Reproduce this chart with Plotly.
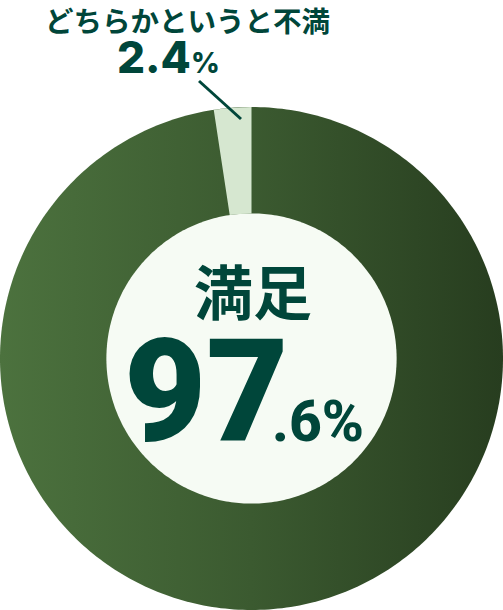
import numpy as np
import plotly.graph_objects as go

# ---- data ----
labels = ["満足", "どちらかというと不満"]
values = [97.6, 2.4]
value_text = ["97.6%", "2.4%"]

W, H = 503, 610
R = W / 2.0            # pie radius in px (domain width / 2)
HOLE = 0.577
DARK = "#00463a"

fig = go.Figure()

# gradient underlay for the ring (decorative background disc)
t = np.linspace(0, 2 * np.pi, 361)
cx, cy = W / 2.0, W / 2.0
fig.add_trace(go.Scatter(
    x=cx + R * np.cos(t), y=cy + R * np.sin(t),
    mode="none", fill="toself",
    fillgradient=dict(type="horizontal",
                      colorscale=[[0, "#4c723e"], [0.5, "#3b5a30"], [1, "#273d1f"]]),
    hoverinfo="skip", showlegend=False))
# inner face of the donut
fig.add_trace(go.Scatter(
    x=cx + R * HOLE * np.cos(t), y=cy + R * HOLE * np.sin(t),
    mode="none", fill="toself", fillcolor="#f6fbf4",
    hoverinfo="skip", showlegend=False))

fig.add_trace(go.Pie(
    labels=labels, values=values, hole=HOLE,
    sort=False, direction="clockwise", rotation=0,
    marker=dict(colors=["rgba(0,0,0,0)", "#d6e7d0"], line=dict(width=0)),
    textinfo="none", hoverinfo="skip", showlegend=False,
    domain=dict(x=[0, 1], y=[0, W / H])))

def px(x):
    return x / W

def py(y):
    return 1 - y / H

big_int, big_frac = value_text[0][:2], value_text[0][2:]

ann = []
ann.append(dict(text="<b>" + labels[1] + "</b>", x=px(187), y=py(19),
                font=dict(family="Noto Sans CJK JP", size=28.5, color=DARK, weight=900)))
ann.append(dict(text=value_text[1][:-1] + "<span style='font-size:28px'>%</span>",
                x=px(168), y=py(57),
                font=dict(family="Inter", size=44, color=DARK, weight=800)))
ann.append(dict(text="<b>" + labels[0] + "</b>", x=px(253), y=py(289),
                font=dict(family="Noto Sans CJK JP", size=59, color=DARK, weight=900)))
ann.append(dict(text=big_int, x=px(206), y=py(392),
                font=dict(family="Roboto", size=142, color=DARK, weight=900)))
ann.append(dict(text=big_frac, x=px(318), y=py(422),
                font=dict(family="Roboto", size=57, color=DARK, weight=800)))
for a in ann:
    a.update(xref="paper", yref="paper", showarrow=False,
             xanchor="center", yanchor="middle")

fig.update_layout(
    width=W, height=H,
    margin=dict(l=0, r=0, t=0, b=0),
    paper_bgcolor="white", plot_bgcolor="rgba(0,0,0,0)",
    xaxis=dict(range=[0, W], visible=False, domain=[0, 1], fixedrange=True),
    yaxis=dict(range=[0, H], visible=False, domain=[0, 1], fixedrange=True),
    annotations=ann,
    shapes=[dict(type="line", xref="paper", yref="paper",
                 x0=px(199), y0=py(81), x1=px(241), y1=py(119),
                 line=dict(color=DARK, width=3))],
    showlegend=False,
)

fig.write_html("out.html", config={"displayModeBar": False},
               post_script="document.body.style.margin='0';document.body.style.overflow='hidden';")
